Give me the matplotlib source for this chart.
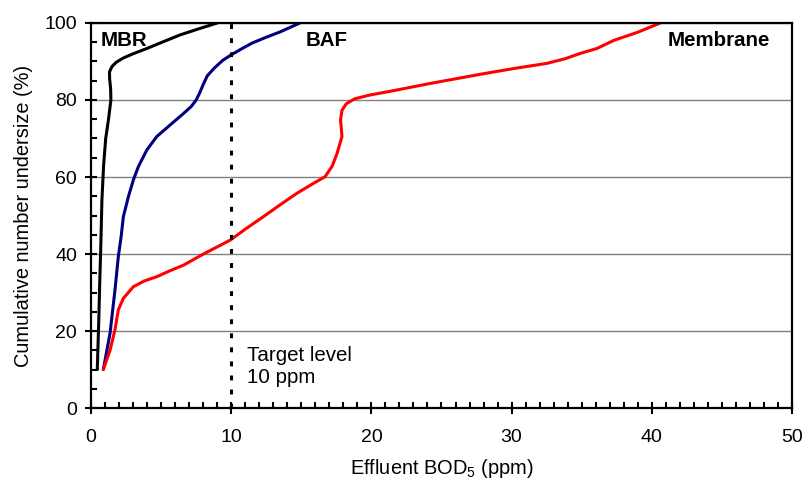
"""Cumulative distribution of effluent BOD5 for three treatment processes."""

import matplotlib
matplotlib.use("Agg")
import matplotlib.pyplot as plt
from matplotlib.ticker import MultipleLocator

plt.rcParams["font.family"] = ["Liberation Sans", "DejaVu Sans"]
plt.rcParams["mathtext.default"] = "regular"

# MBR curve (effluent BOD5 ppm, cumulative %)
mbr_x = [0.45, 0.55, 0.62, 0.7, 0.78, 0.9, 1.05, 1.25, 1.42, 1.4, 1.33, 1.32, 1.5, 1.8, 2.3, 3.0, 4.0,
         5.2, 6.35, 7.7, 9.0]
mbr_y = [10, 22, 32, 42, 54, 63, 70, 75, 80, 83, 85.5, 87.3, 88.7, 89.8, 90.9, 92.0, 93.4,
         95.2, 96.9, 98.5, 100]

# BAF curve
baf_x = [0.88, 1.36, 1.71, 1.95, 2.15, 2.31, 2.67, 3.02, 3.38, 3.98, 4.69, 5.64, 6.6, 7.15, 7.5,
         7.75, 8.0, 8.3, 8.8, 9.4, 9.9, 10.7, 11.5, 12.5, 13.5, 14.9]
baf_y = [10, 19.4, 30.6, 39.3, 44.5, 49.7, 54.9, 59.2, 62.7, 67, 70.5, 73.5, 76.5, 78.3, 80,
         81.8, 84, 86.3, 88.3, 90.3, 91.5, 93.2, 94.8, 96.3, 97.7, 100]

# Membrane curve
mem_x = [0.88, 1.36, 1.71, 1.95, 2.31, 3.02, 3.8, 4.69, 5.6, 6.6, 8.02, 9.93, 11.1, 12.3, 13.5, 14.7,
         15.8, 16.7, 17.2, 17.55, 17.9, 17.85, 17.8, 17.9, 18.2, 18.8, 19.9, 21.4, 24.2, 27.8, 30.2,
         32.5, 33.8, 34.9, 36.1, 37.3, 39.0, 40.6]
mem_y = [10, 15, 20.3, 25.5, 28.5, 31.5, 33.0, 34.1, 35.6, 37.1, 40, 43.6, 46.7, 49.7, 52.8, 55.8,
         58.2, 60.1, 62.8, 66.1, 70.5, 72.8, 74.8, 77.3, 79.0, 80.3, 81.3, 82.3, 84.3, 86.7, 88.2,
         89.5, 90.7, 92.1, 93.4, 95.5, 97.6, 100]

target_level = 10

fig = plt.figure(figsize=(8.03, 4.79), dpi=100)
ax = fig.add_axes([0.1133, 0.1482, 0.8730, 0.8038])

ax.plot(mbr_x, mbr_y, color="black", lw=2.2, solid_capstyle="round", solid_joinstyle="round")
ax.plot(baf_x, baf_y, color="#000080", lw=2.2, solid_capstyle="round", solid_joinstyle="round")
ax.plot(mem_x, mem_y, color="#ff0000", lw=2.2, solid_capstyle="round", solid_joinstyle="round")
ax.axvline(target_level, color="black", lw=2.2, dashes=(1.6, 3.0))

ax.set_xlim(0, 50)
ax.set_ylim(0, 100)
ax.xaxis.set_major_locator(MultipleLocator(10))
ax.xaxis.set_minor_locator(MultipleLocator(1))
ax.yaxis.set_major_locator(MultipleLocator(20))
ax.yaxis.set_minor_locator(MultipleLocator(5))
ax.tick_params(which="major", direction="inout", length=8, width=1.5, labelsize=14, pad=6)
ax.tick_params(which="minor", direction="in", length=4, width=1.5)
ax.tick_params(axis="x", which="major", pad=11)
ax.grid(True, axis="y", which="major", color="#808080", lw=1)
for spine in ax.spines.values():
    spine.set_linewidth(1.6)

ax.set_xlabel("Effluent BOD$_5$ (ppm)", fontsize=14.4, labelpad=8)
ax.set_ylabel("Cumulative number undersize (%)", fontsize=14.4, labelpad=8)

ax.text(0.7, 95.5, "MBR", fontsize=14.8, fontweight="bold", va="center")
ax.text(15.3, 95.5, "BAF", fontsize=14.8, fontweight="bold", va="center")
ax.text(41.1, 95.5, "Membrane", fontsize=14.8, fontweight="bold", va="center")
ax.text(11.1, 10.9, "Target level\n10 ppm", fontsize=14.8, va="center", linespacing=1.2)

fig.savefig("out.png", dpi=100)
